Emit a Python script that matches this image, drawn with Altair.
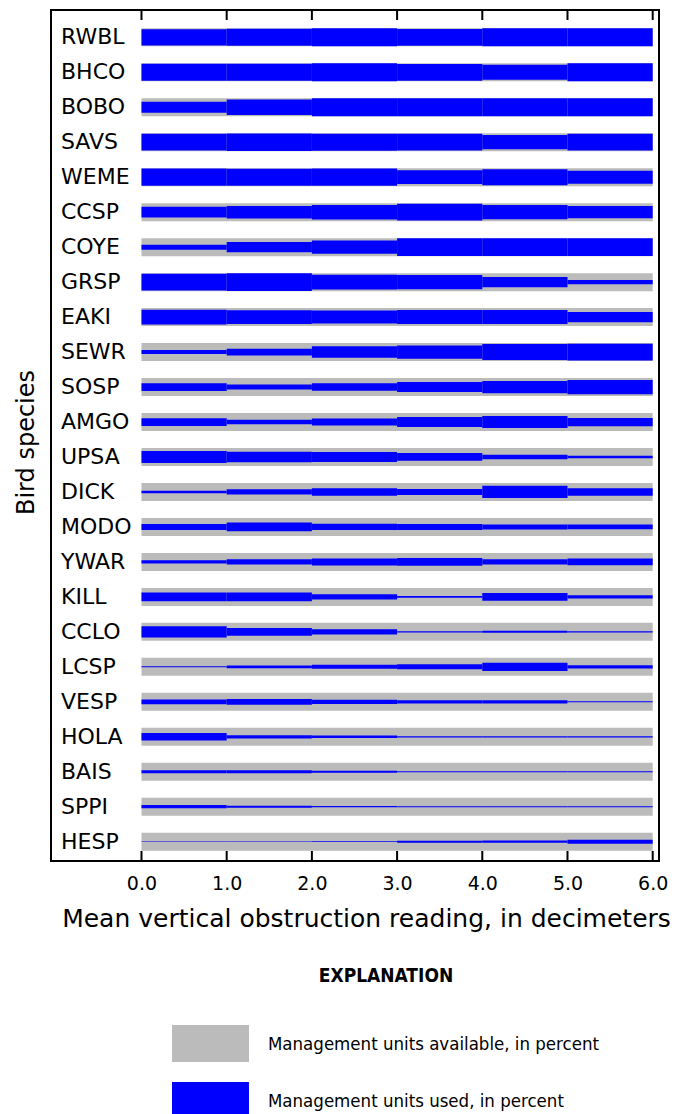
import altair as alt
import pandas as pd

# ---- data ----
species = ["RWBL", "BHCO", "BOBO", "SAVS", "WEME", "CCSP", "COYE", "GRSP",
           "EAKI", "SEWR", "SOSP", "AMGO", "UPSA", "DICK", "MODO", "YWAR",
           "KILL", "CCLO", "LCSP", "VESP", "HOLA", "BAIS", "SPPI", "HESP"]

vor_edges = [0.0, 1.0, 2.0, 3.0, 4.0, 5.0, 6.0]

# management units used (percent, relative to the available bar), per 1-dm class
used_pct = [
    [90, 94, 100, 93, 100, 100],   # RWBL
    [94, 94, 100, 93, 83, 100],    # BHCO
    [61, 87, 100, 100, 100, 100],  # BOBO
    [93, 98, 94, 93, 79, 93],      # SAVS
    [96, 94, 96, 76, 88, 72],      # WEME
    [59, 70, 80, 93, 79, 68],      # CCSP
    [28, 57, 73, 98, 98, 98],      # COYE
    [93, 98, 83, 79, 56, 24],      # GRSP
    [83, 76, 72, 78, 78, 57],      # EAKI
    [22, 37, 64, 74, 89, 93],      # SEWR
    [43, 28, 42, 56, 68, 79],      # SOSP
    [43, 24, 40, 56, 67, 46],      # AMGO
    [67, 59, 56, 43, 26, 15],      # UPSA
    [13, 29, 41, 33, 68, 41],      # DICK
    [33, 48, 35, 33, 28, 26],      # MODO
    [18, 29, 39, 44, 29, 37],      # YWAR
    [48, 48, 29, 11, 44, 17],      # KILL
    [63, 44, 29, 6, 11, 6],        # CCLO
    [6, 15, 22, 28, 46, 18],       # LCSP
    [26, 32, 24, 18, 18, 6],       # VESP
    [41, 18, 14, 7, 7, 7],         # HOLA
    [18, 18, 12, 6, 6, 6],         # BAIS
    [18, 11, 7, 6, 6, 6],          # SPPI
    [3, 3, 4, 11, 13, 22],         # HESP
]

available_pct = 100
tick_values = [0, 1, 2, 3, 4, 5, 6]

AVAIL = "Management units available, in percent"
USED = "Management units used, in percent"

# ---- tables built from the arrays ----
seg_rows = []
for i, (sp, vals) in enumerate(zip(species, used_pct)):
    for j, v in enumerate(vals):
        seg_rows.append({"species": sp, "row": i, "lo": vor_edges[j],
                         "hi": vor_edges[j + 1], "pct": v, "kind": USED})
used_df = pd.DataFrame(seg_rows)

avail_df = pd.DataFrame({
    "species": species,
    "row": list(range(len(species))),
    "lo": [vor_edges[0]] * len(species),
    "hi": [vor_edges[-1]] * len(species),
    "pct": [available_pct] * len(species),
    "kind": [AVAIL] * len(species),
})
label_df = pd.DataFrame({"species": species, "row": list(range(len(species)))})
tick_df = pd.DataFrame({"lo": tick_values})

FONT = "DejaVu Sans"
FONT_C = "DejaVu Sans Condensed, Liberation Sans Narrow, DejaVu Sans"

W, H = 608, 851
xscale = alt.Scale(domain=[-1.062, 6.074], nice=False, zero=False, padding=0)
yscale = alt.Scale(domain=[-0.781, 23.552], nice=False, zero=False, reverse=True, padding=0)
size_scale = alt.Scale(domain=[0, 100], range=[0, 18], zero=True)
color_scale = alt.Scale(domain=[AVAIL, USED], range=["#bbbbbb", "#0000ff"])

x_axis = alt.Axis(values=tick_values, format=".1f", ticks=False, domain=False,
                  grid=False, labelFlush=False, labelFontSize=19, labelFont=FONT,
                  labelColor="black", labelPadding=13,
                  title="Mean vertical obstruction reading, in decimeters",
                  titleFontSize=25, titleFont=FONT, titleFontWeight="normal",
                  titleColor="black", titlePadding=13, titleX=315)
y_axis = alt.Axis(labels=False, ticks=False, domain=False, grid=False,
                  title="Bird species", titleFontSize=24, titleFont=FONT,
                  titleFontWeight="normal", titleColor="black",
                  titlePadding=13, titleY=432)

legend = alt.Legend(title="EXPLANATION", orient="none", legendX=121, legendY=957,
                    titleAnchor="middle", titleFontSize=19, titleFont=FONT_C,
                    titleFontWeight="bold", titleColor="black", titlePadding=19,
                    symbolType="M-1,-0.48H1V0.48H-1Z", symbolSize=5929,
                    symbolStrokeWidth=0, symbolOpacity=1,
                    labelFontSize=18.5, labelFont=FONT_C, labelColor="black",
                    labelOffset=19, labelLimit=0, rowPadding=-20, padding=0)

avail = alt.Chart(avail_df).mark_bar(orient="horizontal").encode(
    x=alt.X("lo:Q", scale=xscale, axis=x_axis),
    x2="hi:Q",
    y=alt.Y("row:Q", scale=yscale, axis=y_axis),
    size=alt.Size("pct:Q", scale=size_scale, legend=None),
    color=alt.Color("kind:N", scale=color_scale, legend=legend),
)

used = alt.Chart(used_df).mark_bar(orient="horizontal").encode(
    x=alt.X("lo:Q", scale=xscale, axis=x_axis),
    x2="hi:Q",
    y=alt.Y("row:Q", scale=yscale, axis=y_axis),
    size=alt.Size("pct:Q", scale=size_scale, legend=None),
    color=alt.Color("kind:N", scale=color_scale, legend=legend),
)

labels = alt.Chart(label_df).mark_text(
    align="left", baseline="middle", fontSize=22, font=FONT, color="black"
).encode(
    x=alt.value(10),
    y=alt.Y("row:Q", scale=yscale, axis=y_axis),
    text="species:N",
)

ticks_top = alt.Chart(tick_df).mark_rule(color="black", strokeWidth=2).encode(
    x=alt.X("lo:Q", scale=xscale, axis=x_axis),
    y=alt.value(0), y2=alt.value(10),
)
ticks_bottom = alt.Chart(tick_df).mark_rule(color="black", strokeWidth=2).encode(
    x=alt.X("lo:Q", scale=xscale, axis=x_axis),
    y=alt.value(H - 10), y2=alt.value(H),
)

chart = alt.layer(avail, used, labels, ticks_top, ticks_bottom).properties(
    width=W, height=H,
    padding={"left": 51, "top": 10, "right": 27, "bottom": 262},
    autosize=alt.AutoSizeParams(type="none"),
    background="white",
).configure_view(stroke="black", strokeWidth=2)

chart.save("out.html", embed_options={"renderer": "svg", "actions": False})
